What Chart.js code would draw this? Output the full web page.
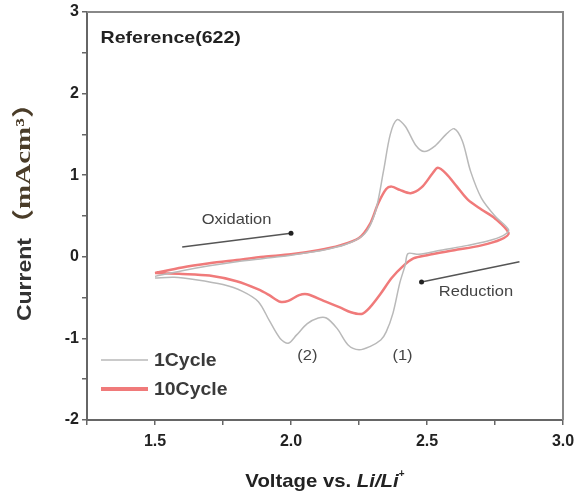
<!DOCTYPE html>
<html>
<head>
<meta charset="UTF-8">
<title>CV</title>
<script src="https://cdn.jsdelivr.net/npm/chart.js"></script>
<style>
  html, body { margin: 0; padding: 0; background: #fff; }
  #wrap { width: 578px; height: 496px; position: relative; }
</style>
</head>
<body>
<div id="wrap"><canvas id="cv"></canvas></div>
<script>
// 1st cycle: oxidation sweep (left to right) then reduction sweep (back)
const cycle1V = [1.50, 1.60, 1.70, 1.80, 1.90, 2.00, 2.10, 2.20, 2.27, 2.31, 2.34, 2.365, 2.39, 2.42, 2.46, 2.49, 2.53, 2.57, 2.60, 2.63, 2.66, 2.70, 2.75, 2.80,
  2.78, 2.72, 2.65, 2.55, 2.47, 2.43, 2.42, 2.40, 2.375, 2.35, 2.33, 2.29, 2.25, 2.21, 2.17, 2.13, 2.10, 2.06, 2.02, 1.99, 1.96, 1.92, 1.88, 1.82, 1.75, 1.65, 1.57, 1.50];
const cycle1I = [-0.24, -0.17, -0.11, -0.06, -0.02, 0.02, 0.07, 0.15, 0.28, 0.55, 1.05, 1.50, 1.68, 1.60, 1.36, 1.29, 1.36, 1.50, 1.57, 1.42, 1.05, 0.72, 0.50, 0.33,
  0.26, 0.19, 0.14, 0.08, 0.03, 0.04, -0.10, -0.32, -0.69, -0.92, -1.02, -1.10, -1.14, -1.08, -0.88, -0.75, -0.75, -0.82, -0.96, -1.06, -1.00, -0.78, -0.55, -0.42, -0.34, -0.28, -0.25, -0.26];

// 10th cycle
const cycle10V = [1.50, 1.60, 1.70, 1.80, 1.90, 2.00, 2.10, 2.18, 2.25, 2.29, 2.32, 2.35, 2.37, 2.40, 2.44, 2.48, 2.52, 2.54, 2.57, 2.61, 2.65, 2.70, 2.75, 2.80,
  2.77, 2.70, 2.60, 2.50, 2.45, 2.41, 2.37, 2.33, 2.29, 2.26, 2.22, 2.18, 2.12, 2.06, 2.03, 1.99, 1.96, 1.92, 1.88, 1.80, 1.70, 1.60, 1.50];
const cycle10I = [-0.20, -0.13, -0.08, -0.04, 0.00, 0.03, 0.08, 0.14, 0.23, 0.40, 0.65, 0.83, 0.86, 0.82, 0.78, 0.85, 1.02, 1.09, 1.02, 0.86, 0.70, 0.58, 0.47, 0.29,
  0.21, 0.14, 0.08, 0.02, -0.02, -0.12, -0.26, -0.45, -0.62, -0.70, -0.68, -0.62, -0.54, -0.46, -0.47, -0.54, -0.55, -0.47, -0.40, -0.30, -0.23, -0.21, -0.20];

const seriesNames = ['1Cycle', '10Cycle'];
const xTickLabels = ['1.5', '2.0', '2.5', '3.0'];
const yTickLabels = ['-2', '-1', '0', '1', '2', '3'];

// text notes placed in data coordinates
const notes = [
  { text: 'Oxidation', x: 1.80, y: 0.45 },
  { text: 'Reduction', x: 2.68, y: -0.43 },
  { text: '(2)', x: 2.06, y: -1.21 },
  { text: '(1)', x: 2.41, y: -1.21 }
];
// arrows: from -> to (dot at the "to" end)
const arrows = [
  { x0: 1.60, y0: 0.12, x1: 2.00, y1: 0.29 },
  { x0: 2.84, y0: -0.06, x1: 2.48, y1: -0.31 }
];

function pts(xs, ys) {
  return xs.map(function (v, i) { return { x: v, y: ys[i] }; });
}

const sans = '"Liberation Sans", Arial, sans-serif';
const serifUnit = '"Liberation Serif", "Noto Sans CJK SC", serif';

// draw text stretched horizontally (the source picture is a bit wide)
function wideText(c, text, x, y, sx, align) {
  const w = c.measureText(text).width * sx;
  let x0 = x;
  if (align === 'center') x0 = x - w / 2;
  else if (align === 'right') x0 = x - w;
  c.save();
  c.translate(x0, y);
  c.scale(sx, 1);
  c.textAlign = 'left';
  c.fillText(text, 0, 0);
  c.restore();
  return w;
}

const extras = {
  id: 'extras',
  afterDraw: function (chart) {
    const c = chart.ctx;
    const a = chart.chartArea;
    const xs = chart.scales.x, ys = chart.scales.y;
    c.save();

    // frame top and right
    c.strokeStyle = '#888';
    c.lineWidth = 2;
    c.beginPath();
    c.moveTo(a.left, a.top);
    c.lineTo(a.right, a.top);
    c.lineTo(a.right, a.bottom);
    c.stroke();

    c.textBaseline = 'middle';

    // title inside
    c.fillStyle = '#222';
    c.font = 'bold 17px ' + sans;
    wideText(c, 'Reference(622)', xs.getPixelForValue(1.30), ys.getPixelForValue(2.68), 1.15, 'left');

    // notes
    c.font = '15px ' + sans;
    c.fillStyle = '#444';
    notes.forEach(function (n) {
      wideText(c, n.text, xs.getPixelForValue(n.x), ys.getPixelForValue(n.y), 1.1, 'center');
    });

    // arrows
    c.strokeStyle = '#555';
    c.fillStyle = '#222';
    c.lineWidth = 1.5;
    arrows.forEach(function (r) {
      const px0 = xs.getPixelForValue(r.x0), py0 = ys.getPixelForValue(r.y0);
      const px1 = xs.getPixelForValue(r.x1), py1 = ys.getPixelForValue(r.y1);
      c.beginPath();
      c.moveTo(px0, py0);
      c.lineTo(px1, py1);
      c.stroke();
      c.beginPath();
      c.arc(px1, py1, 2.5, 0, Math.PI * 2);
      c.fill();
    });

    // legend
    const lx = a.left + 14;
    c.font = 'bold 18px ' + sans;
    chart.data.datasets.forEach(function (ds, i) {
      const ly = 360 + i * 29;
      c.strokeStyle = ds.borderColor;
      c.lineWidth = i === 0 ? 1.5 : 4;
      c.beginPath();
      c.moveTo(lx, ly);
      c.lineTo(lx + 47, ly);
      c.stroke();
      c.fillStyle = '#3a3a3a';
      wideText(c, seriesNames[i], lx + 53, ly + 1, 1.08, 'left');
    });

    // y axis title: bold "Current" + serif unit
    c.save();
    c.translate(25, 205);
    c.rotate(-Math.PI / 2);
    const t1 = 'Current';
    const t2 = '（mAcm³）';
    c.font = 'bold 20px ' + sans;
    const w1 = c.measureText(t1).width * 1.15;
    c.font = 'bold 22px ' + serifUnit;
    const w2 = c.measureText(t2).width * 1.32;
    const sx = -(w1 + w2) / 2;
    c.fillStyle = '#333';
    c.font = 'bold 20px ' + sans;
    wideText(c, t1, sx, 0, 1.15, 'left');
    c.fillStyle = '#4a3c28';
    c.font = 'bold 22px ' + serifUnit;
    wideText(c, t2, sx + w1, -1, 1.32, 'left');
    c.restore();

    // x axis title
    const p1 = 'Voltage vs. ';
    const p2 = 'Li/Li';
    const st = 1.07;
    c.font = 'bold 19px ' + sans;
    const q1 = c.measureText(p1).width * st;
    c.font = 'italic bold 19px ' + sans;
    const q2 = c.measureText(p2).width * st;
    const bx = (a.left + a.right) / 2 - (q1 + q2 + 6) / 2;
    c.fillStyle = '#222';
    c.font = 'bold 19px ' + sans;
    wideText(c, p1, bx, 482, st, 'left');
    c.font = 'italic bold 19px ' + sans;
    wideText(c, p2, bx + q1, 482, st, 'left');
    c.font = 'bold 10px ' + sans;
    c.textAlign = 'left';
    c.fillText('+', bx + q1 + q2, 474);

    c.restore();
  }
};

new Chart(document.getElementById('cv'), {
  type: 'scatter',
  data: {
    datasets: [
      {
        label: seriesNames[0],
        data: pts(cycle1V, cycle1I),
        showLine: true,
        borderColor: '#b9b9b9',
        borderWidth: 1.5,
        pointRadius: 0,
        tension: 0.3
      },
      {
        label: seriesNames[1],
        data: pts(cycle10V, cycle10I),
        showLine: true,
        borderColor: '#f07a7a',
        borderWidth: 2.5,
        pointRadius: 0,
        tension: 0.3
      }
    ]
  },
  options: {
    responsive: true,
    maintainAspectRatio: false,
    animation: false,
    layout: { padding: { top: 12, right: 15, left: 0, bottom: 0 } },
    plugins: {
      legend: { display: false },
      tooltip: { enabled: false }
    },
    scales: {
      x: {
        type: 'linear',
        min: 1.25,
        max: 3.0,
        afterFit: function (s) { s.height = 76; s.paddingLeft = 0; s.paddingRight = 0; },
        border: { color: '#666', width: 2 },
        grid: { drawOnChartArea: false, drawTicks: true, tickLength: 5, color: '#666', lineWidth: 1.5 },
        ticks: {
          stepSize: 0.25,
          color: '#222',
          font: { size: 16, weight: 'bold', family: sans },
          padding: 7,
          callback: function (v) {
            const s = v.toFixed(1);
            return (Math.abs(v * 2 - Math.round(v * 2)) < 1e-6 && xTickLabels.indexOf(s) >= 0) ? s : '';
          }
        }
      },
      y: {
        min: -2,
        max: 3,
        afterFit: function (s) { s.width = 87; s.paddingTop = 0; s.paddingBottom = 0; },
        border: { color: '#666', width: 2 },
        grid: { drawOnChartArea: false, drawTicks: true, tickLength: 5, color: '#666', lineWidth: 1.5 },
        ticks: {
          stepSize: 0.5,
          color: '#222',
          font: { size: 16, weight: 'bold', family: sans },
          padding: 3,
          callback: function (v) {
            const s = String(v);
            return yTickLabels.indexOf(s) >= 0 ? s : '';
          }
        }
      }
    }
  },
  plugins: [extras]
});
</script>
</body>
</html>
